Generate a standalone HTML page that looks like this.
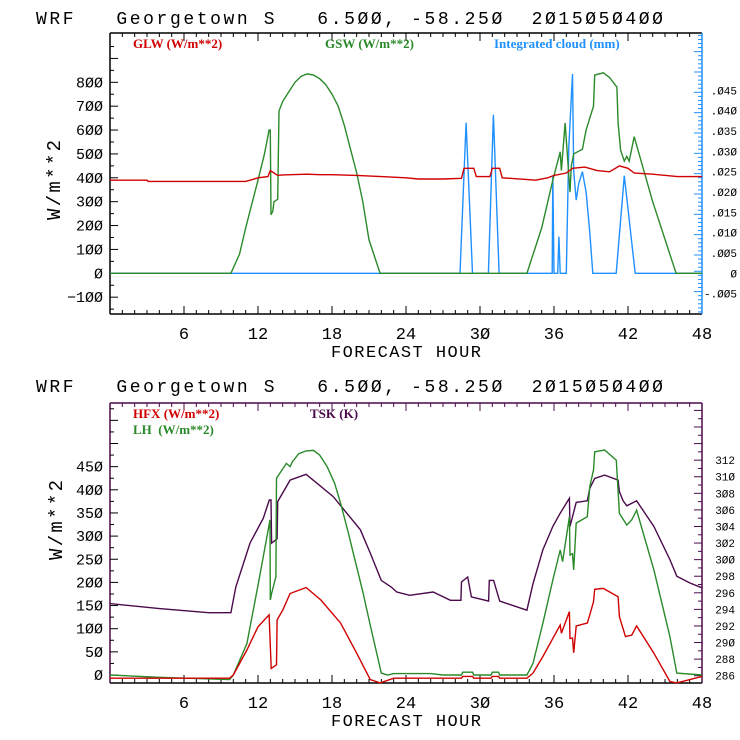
<!DOCTYPE html>
<html><head><meta charset="utf-8"><style>
html,body{margin:0;padding:0;background:#fff;}
svg{display:block;}
text{font-family:"Liberation Mono",monospace;white-space:pre;}
.lg{font-family:"Liberation Serif",serif;font-weight:bold;font-size:13px;}
</style></head><body>
<svg id="chart" width="740" height="740" viewBox="0 0 740 740" xmlns="http://www.w3.org/2000/svg" xml:space="preserve">
<g id="top"></g>
<g id="bot"></g>
</svg>
<script>
// ---- data: top panel ----
const xTicks = [6,12,18,24,30,36,42,48];
const yTicksTop = [-100,0,100,200,300,400,500,600,700,800];
const yTicksCloud = [-0.005,0,0.005,0.010,0.015,0.020,0.025,0.030,0.035,0.040,0.045];
const cloudLabels = ["-.005","0",".005",".010",".015",".020",".025",".030",".035",".040",".045"];
const glwHours = [0,3,3.1,11,11.5,12,12.8,13,13.3,13.6,14,16,17,18,20,22,24,25,27,28.5,28.7,29.5,29.7,30.8,31,31.6,31.8,34,34.5,35.5,36,37,37.5,38.5,39.5,40.5,41.3,42,42.5,44,46,48];
const glwVals  = [390,390,385,385,392,400,405,430,420,410,412,415,413,413,410,405,400,395,395,398,440,440,405,405,440,440,400,392,390,400,410,420,440,445,430,425,450,440,420,415,405,405];
const gswHours = [0,9.8,10.5,11,11.5,12,12.5,12.9,13.0,13.05,13.2,13.3,13.6,13.7,14,14.5,15,15.5,16,16.5,17,17.5,18,18.5,19,19.5,20,20.5,21,21.9,33.8,35,35.9,36.5,36.6,36.9,37.3,37.4,37.6,38.3,38.6,38.9,39.2,39.3,40,40.5,41.1,41.2,41.4,41.7,41.9,42.1,42.5,44,45.9,48];
const gswVals  = [0,0,80,190,290,390,495,600,600,245,260,300,310,680,720,760,800,825,835,830,815,790,750,700,620,520,420,300,140,0,0,190,390,509,430,630,340,450,500,520,600,650,700,830,840,820,780,630,516,470,490,470,572,300,0,0];
const cloudHours = [0,28.38,28.87,29.39,30.68,31.09,31.55,35.85,35.9,36.0,36.3,36.4,36.5,37.0,37.2,37.5,37.6,37.8,38.0,38.3,38.6,38.9,39.15,41.04,41.7,42.58,48];
const cloudVals  = [0,0,0.037,0,0,0.039,0,0,0.024,0,0,0.009,0,0,0.031,0.049,0.025,0.018,0.022,0.025,0.020,0.010,0,0,0.024,0,0];
// ---- data: bottom panel ----
const yTicksBot = [0,50,100,150,200,250,300,350,400,450];
const yTicksK = [286,288,290,292,294,296,298,300,302,304,306,308,310,312];
const tskHours = [0,4,8,9.8,10.2,11.35,12.43,12.92,13.05,13.1,13.55,13.6,14.6,15.9,18.1,20.3,21.1,22.0,22.8,23.25,24.3,26.2,27.6,28.45,28.5,29.0,29.3,30.7,30.75,31.1,31.6,33.8,34.3,35.1,35.9,36.5,37.25,37.3,37.8,38.7,38.9,39.3,40.1,41.2,41.3,41.6,41.9,42.7,44.1,45.4,45.96,47,48];
const tskVals  = [294.7,294.1,293.6,293.6,296.7,302,305,307.2,307.2,302,302.5,307,309.6,310.3,307.6,303.6,300.8,297.5,296.7,296.1,295.7,296.1,295.1,295.1,297.3,297.9,295.5,295,297.5,297.5,295,293.9,297.1,301.2,304,305.6,307.4,304,306.9,307.1,308.6,309.8,310.2,309.6,308.2,307.1,306.5,307.1,304,300,298,297.2,296.6];
const lhHours = [0,4,9.7,10,11.1,12.03,12.97,13.0,13.1,13.45,13.5,14.3,14.6,14.8,15.3,15.9,16.5,17,17.6,18.2,18.7,19.3,19.8,20.5,21.1,22.0,22.5,23,26,27,28.5,28.6,29.4,29.5,30.9,31.0,31.5,31.6,33.8,34.3,35.1,35.9,36.5,36.7,37.25,37.3,37.5,37.6,37.8,38.7,38.9,39.2,39.3,40.1,41.05,41.3,41.9,42.3,42.7,44.1,45.4,45.96,48];
const lhVals  = [0,-5,-10,0,68,198,335,162,176,212,425,457,450,461,478,484,485,475,450,415,371,310,255,180,108,4,0,3,3,0,0,6,6,0,0,6,6,0,0,25,112,205,270,245,342,259,262,227,328,342,407,443,482,486,464,349,324,335,356,227,83,4,0];
const hfxHours = [0,9.7,10,11.1,12,12.9,13.07,13.5,13.55,14.0,14.6,15.9,17.1,18.7,20,21.1,21.9,23,26.4,28.5,28.6,29.4,29.5,30.9,31,31.5,31.6,33.8,34.3,35.1,36.5,36.6,37.25,37.3,37.5,37.6,37.8,38.7,38.9,39.2,39.3,40.0,41.2,41.3,41.8,42.3,42.7,44.1,45.4,45.96,48];
const hfxVals  = [-7,-7,0,54,104,130,14,22,119,140,176,189,162,112,47,-10,-17,-7,-7,-7,-3,-3,-7,-7,-3,-3,-7,-7,4,40,108,90,137,79,80,48,106,112,130,158,185,187,169,126,83,86,106,47,-14,-17,-3];

const NS='http://www.w3.org/2000/svg';
const X0=110, X1=702;
const xs = h => X0 + h*(X1-X0)/48;
function mk(p, tag, at, txt){ const e=document.createElementNS(NS,tag); for(const k in at) e.setAttribute(k,at[k]); if(txt!==undefined) e.textContent=txt; p.appendChild(e); return e; }
function line(p,hs,vs,ys,color,name){
  const d=hs.map((h,i)=>(i?'L':'M')+xs(h).toFixed(1)+' '+ys(vs[i]).toFixed(1)).join(' ');
  const e=mk(p,'path',{d:d,fill:'none',stroke:color,'stroke-width':1.4});
  
  
}
function frame(p,T,B,lc,rc,topC){
  mk(p,'line',{x1:X0,y1:T,x2:X1,y2:T,stroke:topC,'stroke-width':1.5});
  mk(p,'line',{x1:X0,y1:B,x2:X1,y2:B,stroke:'#000','stroke-width':1.5});
  mk(p,'line',{x1:X0,y1:T,x2:X0,y2:B,stroke:lc,'stroke-width':1.5});
  mk(p,'line',{x1:X1,y1:T,x2:X1,y2:B,stroke:rc,'stroke-width':1.5});
  for(let h=1;h<48;h++){ const x=xs(h); const L=(h%6===0)?8:4;
    mk(p,'line',{x1:x,y1:B,x2:x,y2:B-L,stroke:'#000','stroke-width':1});
    mk(p,'line',{x1:x,y1:T,x2:x,y2:T+L,stroke:topC,'stroke-width':1}); }
  xTicks.forEach(h=>{ const t=mk(p,'text',{x:xs(h),y:B+25,'text-anchor':'middle','font-size':17},String(h).replace(/0/g,'Ø'));
      });
  const xt=mk(p,'text',{x:406,y:B+43,'text-anchor':'middle','font-size':17,textLength:150},'FORECAST HOUR');
   
}
function title(p,y){
  const t=mk(p,'text',{x:36,y:y,'font-size':18,textLength:627,lengthAdjust:'spacing'},'WRF   Georgetown S   6.5ØØ, -58.25Ø  2Ø15Ø5Ø4ØØ');
   
}
function ylab(p,cx,cy){
  const t=mk(p,'text',{x:cx,y:cy,'text-anchor':'middle','font-size':19,transform:`rotate(-90 ${cx} ${cy})`,textLength:80},'W/m**2');
   
}
function leg(p,x,y,c,s,name){ const t=mk(p,'text',{x:x,y:y,fill:c,class:'lg'},s);   }

// ---- top panel ----
(function(){
  const g=document.getElementById('top');
  const T=33,B=314; const ys=v=>273.3-v*191/800; const yc=v=>273.3-v*4067;
  title(g,24);
  frame(g,T,B,'#000','#1e90ff','#000');
  for(let v=-150;v<=950;v+=50){ const y=ys(v); if(y<T||y>B) continue; mk(g,'line',{x1:X0,y1:y,x2:X0+(v%100===0?8:4),y2:y,stroke:'#000'}); }
  yTicksTop.forEach(v=>{ const t=mk(g,'text',{x:103,y:ys(v)+5,'text-anchor':'end','font-size':15},String(v).replace(/0/g,'Ø').replace('-','−'));
      });
  for(let v=-0.0095;v<=0.059;v+=0.001){ const y=yc(v); if(y<T+2||y>B-1) continue; const maj=Math.abs(Math.round(v*1000)%5)===0; mk(g,'line',{x1:X1,y1:y,x2:X1-(maj?8:4),y2:y,stroke:'#1e90ff'}); }
  yTicksCloud.forEach((v,i)=>{ const t=mk(g,'text',{x:737,y:yc(v)+4,'text-anchor':'end','font-size':11},cloudLabels[i].replace(/0/g,'Ø'));
      });
  ylab(g,60,180);
  leg(g,133,48,'#d00000','GLW (W/m**2)','legend-glw');
  leg(g,325,48,'#2a8a2a','GSW (W/m**2)','legend-gsw');
  leg(g,494,48,'#1e90ff','Integrated cloud (mm)','legend-cloud');
  line(g,cloudHours,cloudVals,yc,'#1e90ff','cloud-line');
  line(g,gswHours,gswVals,ys,'#2a8a2a','gsw-line');
  line(g,glwHours,glwVals,ys,'#d00000','glw-line');
})();

// ---- bottom panel ----
(function(){
  const g=document.getElementById('bot');
  const T=403,B=683; const ys=v=>675-v*0.463; const yk=v=>675.7-(v-286)*8.29;
  title(g,392);
  frame(g,T,B,'#4b0a4b','#4b0a4b','#4b0a4b');
  for(let v=0;v<=600;v+=25){ const y=ys(v); if(y<T||y>B) continue; mk(g,'line',{x1:X0,y1:y,x2:X0+(v%50===0?8:4),y2:y,stroke:'#000'}); }
  yTicksBot.forEach(v=>{ const t=mk(g,'text',{x:103,y:ys(v)+5,'text-anchor':'end','font-size':15},String(v).replace(/0/g,'Ø'));
      });
  for(let v=285;v<=320;v+=1){ const y=yk(v); if(y<T+2||y>B-1) continue; mk(g,'line',{x1:X1,y1:y,x2:X1-(v%2===0?8:4),y2:y,stroke:'#4b0a4b'}); }
  yTicksK.forEach(v=>{ const t=mk(g,'text',{x:735,y:yk(v)+4,'text-anchor':'end','font-size':11},String(v).replace(/0/g,'Ø'));
      });
  ylab(g,62,520);
  leg(g,133,418,'#d00000','HFX (W/m**2)','legend-hfx');
  leg(g,133,434,'#2a8a2a','LH  (W/m**2)','legend-lh');
  leg(g,310,418,'#4b0a4b','TSK (K)','legend-tsk');
  line(g,tskHours,tskVals,yk,'#4b0a4b','tsk-line');
  line(g,lhHours,lhVals,ys,'#2a8a2a','lh-line');
  line(g,hfxHours,hfxVals,ys,'#d00000','hfx-line');
})();
</script>
</body></html>
